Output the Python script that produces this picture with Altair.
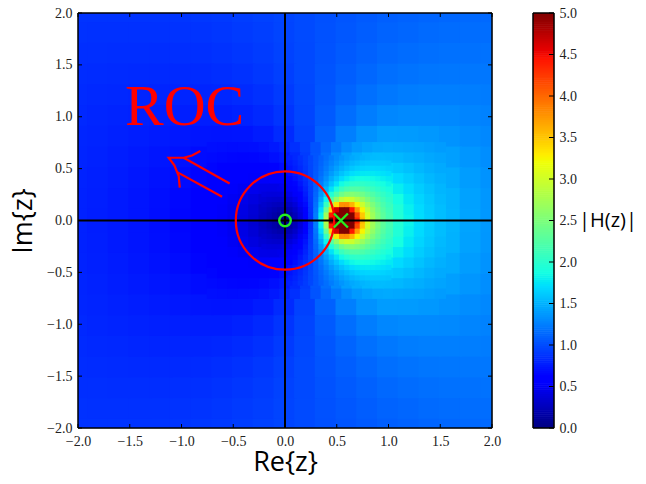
import altair as alt
import pandas as pd

# |H(z)|; rows run along Re{z}, upper half only (the picture is mirror-symmetric)
coarse_x = [round(-2 + 0.2 * i, 1) for i in range(21)]
coarse_y = [2.0, 1.8, 1.6, 1.4, 1.2, 1.0, 0.8, 0.6, 0.4, 0.2, 0.0]
N = None
coarse_rows = [
 [.875,.874,.874,.876,.88,.886,.894,.907,.923,.942,.966,.99,1.017,1.044,1.068,1.09,1.107,1.121,1.132,1.138,1.142],
 [.864,.862,.861,.862,.864,.869,.877,.89,.908,.93,.958,.988,1.021,1.054,1.083,1.109,1.128,1.143,1.153,1.158,1.161],
 [.853,.849,.847,.846,.846,.85,.857,.87,.889,.914,.948,.985,1.027,1.068,1.103,1.134,1.155,1.17,1.18,1.182,1.183],
 [.842,.836,.831,.828,.825,.827,.832,.844,.864,.893,.933,.981,1.035,1.088,1.132,1.168,1.19,1.205,1.211,1.21,1.207],
 [.83,.822,.815,.809,.803,.80,.801,.81,.83,.862,.912,.974,1.047,1.118,1.174,1.216,1.238,1.249,1.25,1.243,1.234],
 [.819,.809,.799,.789,.778,.77,.765,.769,.786,.819,.88,.964,1.066,1.166,1.238,1.286,1.302,1.304,1.296,1.28,1.264],
 [.809,.796,.783,.769,.753,.738,.724,.718,.725,.756,.83,.946,1.101,1.25,1.343,1.389,1.388,1.373,1.348,1.319,1.294],
 [.80,.785,.769,.75,.729,.706,.68,N,N,N,N,N,N,N,N,N,N,N,1.405,1.359,1.323],
 [.793,.776,.758,.735,.708,.677,.639,N,N,N,N,N,N,N,N,N,N,N,1.458,1.394,1.348],
 [.789,.771,.75,.725,.694,.657,.608,N,N,N,N,N,N,N,N,N,N,N,1.497,1.418,1.364],
 [.787,.769,.748,.722,.69,.649,.597,N,N,N,N,N,N,N,N,N,N,N,1.509,1.429,1.37],
]

middle_x = [round(-0.7 + 0.1 * i, 1) for i in range(23)]
middle_y = [0.7, 0.6, 0.5, 0.4, 0.3, 0.2, 0.1, 0.0]
middle_rows = [
 [.695,.689,.686,.688,.696,.715,.745,.792,.855,.935,1.03,1.13,1.226,1.31,1.38,1.42,1.45,1.46,1.45,1.44,1.43,1.41,1.39],
 [.669,.659,.65,.647,.65,.664,.693,.743,.817,.917,1.04,1.17,1.30,1.41,1.48,1.53,1.55,1.54,1.53,1.50,1.48,1.45,1.43],
 [.643,.627,.613,.601,.596,.603,.628,.679,.765,.89,1.05,1.23,1.41,1.55,1.64,1.67,1.67,1.64,1.61,1.57,1.53,1.49,1.46],
 [.619,.597,.575,.554,.537,.531,.546,.595,.693,.851,1.07,1.33,1.59,1.78,1.87,1.87,1.83,1.77,1.70,1.64,1.58,1.53,1.49],
 [.597,.569,.539,.507,.476,.451,.447,.485,.593,.794,1.10,1.51,1.92,2.19,2.24,2.15,2.02,1.90,1.79,1.71,1.63,1.57,1.52],
 [.58,.546,.508,.465,.417,.369,.333,.347,.462,.716,1.15,1.83,2.63,3.02,2.83,2.51,2.24,2.03,1.88,1.76,1.67,1.60,1.54],
 [.568,.531,.488,.436,.374,.30,.218,.182,.313,.63,1.21,2.38,4.65,5.0,3.73,2.89,2.42,2.13,1.94,1.80,1.70,1.62,1.56],
 [.565,.526,.481,.426,.357,.27,.156,0.0,.227,.588,1.25,2.86,5.0,5.0,4.38,3.08,2.5,2.17,1.96,1.82,1.71,1.63,1.56],
]

upper_x = [round(0.05 + 0.05 * i, 2) for i in range(20)]
upper_y = [0.6, 0.55, 0.5, 0.45, 0.4, 0.35]
upper_rows = [
 [.777,.817,.864,.917,.975,1.04,1.104,1.17,1.236,1.30,1.356,1.41,1.45,1.48,1.511,1.53,1.541,1.55,1.546,1.54],
 [.75,.793,.846,.905,.972,1.043,1.12,1.197,1.275,1.347,1.414,1.47,1.518,1.553,1.58,1.595,1.604,1.604,1.60,1.591],
 [.718,.765,.823,.89,.967,1.05,1.141,1.23,1.324,1.41,1.486,1.55,1.602,1.64,1.662,1.67,1.676,1.67,1.66,1.64],
 [.681,.732,.797,.873,.962,1.06,1.167,1.276,1.387,1.487,1.579,1.65,1.707,1.741,1.762,1.765,1.76,1.745,1.727,1.703],
 [.637,.693,.765,.851,.955,1.07,1.20,1.33,1.469,1.59,1.70,1.78,1.84,1.87,1.88,1.87,1.857,1.83,1.80,1.77],
 [.587,.647,.727,.825,.947,1.085,1.243,1.408,1.578,1.73,1.862,1.953,2.013,2.03,2.03,2.0,1.967,1.92,1.88,1.83],
]

fine_x = [round(-0.2 + 0.05 * i, 2) for i in range(25)]
fine_y = [0.3, 0.25, 0.2, 0.15, 0.1, 0.05, 0.0]
fine_rows = [
 [.451,.446,.447,.46,.485,.53,.593,.682,.794,.936,1.10,1.30,1.51,1.73,1.92,2.09,2.19,2.24,2.24,2.21,2.15,2.09,2.02,1.96,1.90],
 [.41,.397,.392,.398,.42,.464,.532,.63,.758,.924,1.125,1.37,1.64,1.94,2.20,2.41,2.52,2.55,2.50,2.42,2.32,2.23,2.13,2.05,1.97],
 [.369,.348,.333,.331,.347,.39,.462,.571,.716,.909,1.15,1.46,1.83,2.25,2.63,2.92,3.02,2.98,2.83,2.68,2.51,2.37,2.24,2.13,2.03],
 [.331,.30,.274,.26,.267,.309,.387,.508,.672,.893,1.18,1.57,2.07,2.72,3.34,3.79,3.80,3.59,3.25,2.97,2.71,2.51,2.34,2.20,2.09],
 [.30,.259,.218,.187,.182,.224,.313,.448,.63,.878,1.21,1.70,2.38,3.44,4.65,5.0,5.0,4.43,3.73,3.26,2.89,2.63,2.42,2.26,2.13],
 [.278,.229,.174,.119,.092,.144,.252,.402,.599,.867,1.24,1.80,2.69,4.42,5.0,5.0,5.0,5.0,4.16,3.49,3.02,2.71,2.48,2.30,2.16],
 [.27,.217,.156,.085,0.0,.102,.227,.385,.588,.862,1.25,1.84,2.86,5.0,5.0,5.0,5.0,5.0,4.38,3.57,3.08,2.74,2.5,2.32,2.17],
]

ticks = [-2.0, -1.5, -1.0, -0.5, 0.0, 0.5, 1.0, 1.5, 2.0]
bar_ticks = [0.0, 0.5, 1.0, 1.5, 2.0, 2.5, 3.0, 3.5, 4.0, 4.5, 5.0]
bar_levels = [round(0.025 * i, 3) for i in range(201)]

jet_stops = [0.0, 0.55, 0.625, 1.7, 1.75, 1.875, 3.2, 3.25, 3.3, 4.45, 4.55, 5.0]
jet_colors = ["#000080", "#0000ff", "#0000ff", "#00dbff", "#00e6f7", "#15ffe2",
              "#efff08", "#f7f600", "#ffec00", "#ff1300", "#e80000", "#800000"]

pole = (0.54, 0.0)
zero = (0.0, 0.0)
roc_radius_size = 9677

arrow_paths = {
    "shaft1": [(-.535, .357), (-.979, .605)],
    "shaft2": [(-.608, .229), (-1.042, .466)],
    "head": [(-.818, .669), (-.898, .627), (-.979, .605), (-1.124, .605),
             (-1.069, .531), (-1.027, .428), (-1.017, .316)],
}

def edge(v):
    return max(-2.0, min(2.0, v))

cells = []
for xs, ys, rows, step in [(coarse_x, coarse_y, coarse_rows, 0.2),
                           (middle_x, middle_y, middle_rows, 0.1),
                           (upper_x, upper_y, upper_rows, 0.05),
                           (fine_x, fine_y, fine_rows, 0.05)]:
    half = step * 0.56
    for yv, row in zip(ys, rows):
        for xv, v in zip(xs, row):
            if v is None:
                continue
            for sign in ([1, -1] if yv > 0 else [1]):
                cells.append(dict(x0=edge(xv - half), x1=edge(xv + half),
                                  y0=edge(sign * yv - half), y1=edge(sign * yv + half), v=v))
cells = pd.DataFrame(cells)

FONT_TICK = "Liberation Serif"
FONT_TITLE = "Open Sans"
dom = alt.Scale(domain=[-2, 2], nice=False, zero=False)
color = alt.Color("v:Q", legend=None,
                  scale=alt.Scale(domain=jet_stops, range=jet_colors, interpolate="rgb", clamp=True))

def axis(title, pad):
    return alt.Axis(title=title, values=ticks, format=".1f", grid=False, ticks=False, domain=False,
                    labelFont=FONT_TICK, labelFontSize=14, labelColor="#222222", labelPadding=6,
                    labelOverlap=False, labelFlush=False,
                    titleFont=FONT_TITLE, titleFontSize=27, titleFontWeight="normal",
                    titleColor="black", titlePadding=pad)

ax_x = axis("Re{z}", 1)
ax_y = axis("Im{z}", 9)

heat = alt.Chart(cells).mark_rect(stroke=None).encode(
    x=alt.X("x0:Q", scale=dom, axis=ax_x), x2="x1:Q",
    y=alt.Y("y0:Q", scale=dom, axis=ax_y), y2="y1:Q",
    color=color)

sx = alt.X("x:Q", scale=dom, axis=ax_x)
sy = alt.Y("y:Q", scale=dom, axis=ax_y)

t = pd.DataFrame({"t": ticks})
tick_x = alt.X("t:Q", scale=dom, axis=ax_x)
tick_y = alt.Y("t:Q", scale=dom, axis=ax_y)
tick_layers = [
    alt.Chart(t).mark_rule(color="black", strokeWidth=1).encode(x=tick_x, y=alt.value(415), y2=alt.value(411)),
    alt.Chart(t).mark_rule(color="black", strokeWidth=1).encode(x=tick_x, y=alt.value(0), y2=alt.value(4)),
    alt.Chart(t).mark_rule(color="black", strokeWidth=1).encode(y=tick_y, x=alt.value(0), x2=alt.value(4)),
    alt.Chart(t).mark_rule(color="black", strokeWidth=1).encode(y=tick_y, x=alt.value(414), x2=alt.value(410)),
]

cross = pd.DataFrame({"x": [-2, 0], "x2": [2, 0], "y": [0, -2], "y2": [0, 2]})
cross_mark = alt.Chart(cross).mark_rule(color="black", strokeWidth=2).encode(x=sx, x2="x2:Q", y=sy, y2="y2:Q")
frame = pd.DataFrame({"x": [-2, -2, -2, 2], "x2": [2, 2, -2, 2], "y": [-2, 2, -2, -2], "y2": [-2, 2, 2, 2]})
frame_mark = alt.Chart(frame).mark_rule(color="black", strokeWidth=1.5).encode(x=sx, x2="x2:Q", y=sy, y2="y2:Q")

roc_circle = alt.Chart(pd.DataFrame({"x": [zero[0]], "y": [zero[1]]})).mark_point(
    shape="circle", size=roc_radius_size, color="#ff0000", filled=False, strokeWidth=2.2, opacity=1).encode(x=sx, y=sy)
zero_mark = alt.Chart(pd.DataFrame({"x": [zero[0]], "y": [zero[1]]})).mark_point(
    shape="circle", size=133, color="#22ee22", filled=False, strokeWidth=2.4, opacity=1).encode(x=sx, y=sy)
pole_mark = alt.Chart(pd.DataFrame({"x": [pole[0]], "y": [pole[1]]})).mark_point(
    shape="M-1,-1L1,1M-1,1L1,-1", size=196, color="#22ee22", filled=False, strokeWidth=2.4, opacity=1).encode(x=sx, y=sy)

arrow = pd.DataFrame([dict(path=k, i=i, x=p[0], y=p[1]) for k, pts in arrow_paths.items() for i, p in enumerate(pts)])
arrow_mark = alt.Chart(arrow).mark_line(color="#ff0000", strokeWidth=2.2).encode(x=sx, y=sy, detail="path:N", order="i:Q")

roc_text = alt.Chart(pd.DataFrame({"x": [-0.97], "y": [0.925], "s": ["ROC"]})).mark_text(
    font="Liberation Serif", fontSize=58, color="#ff0000", align="center", baseline="alphabetic").encode(x=sx, y=sy, text="s:N")

main = alt.layer(heat, *tick_layers, cross_mark, frame_mark, roc_circle, zero_mark, pole_mark, arrow_mark, roc_text).properties(width=414, height=415)

bar = pd.DataFrame({"v": bar_levels})
bar["y0"] = (bar["v"] - 0.016).clip(lower=0.0)
bar["y1"] = (bar["v"] + 0.016).clip(upper=5.0)
bar_scale = alt.Scale(domain=[0, 5], nice=False, zero=False)
ax_bar = alt.Axis(
    title=None, orient="right", values=bar_ticks, format=".1f", grid=False, ticks=False, domain=False,
    labelFont=FONT_TICK, labelFontSize=14, labelColor="#222222", labelPadding=5, labelOverlap=False, labelFlush=False)
bar_rects = alt.Chart(bar).mark_rect(stroke=None).encode(
    x=alt.value(0), x2=alt.value(21),
    y=alt.Y("y0:Q", scale=bar_scale, axis=ax_bar),
    y2="y1:Q", color=color)
bt = pd.DataFrame({"t": bar_ticks})
bar_ticks_mark = alt.Chart(bt).mark_rule(color="black", strokeWidth=1).encode(
    y=alt.Y("t:Q", scale=bar_scale, axis=ax_bar), x=alt.value(21), x2=alt.value(16))
bar_edges = [
    alt.Chart(pd.DataFrame({"y": [0], "y2": [5]})).mark_rule(color="black", strokeWidth=1.5).encode(
        y=alt.Y("y:Q", scale=bar_scale, axis=ax_bar), y2="y2:Q", x=alt.value(px))
    for px in (0, 21)
] + [
    alt.Chart(pd.DataFrame({"y": [val]})).mark_rule(color="black", strokeWidth=1.5).encode(
        y=alt.Y("y:Q", scale=bar_scale, axis=ax_bar), x=alt.value(0), x2=alt.value(21))
    for val in (0, 5)
]
bar_title = alt.Chart(pd.DataFrame({"s": ["|H(z)|"]})).mark_text(
    font=FONT_TITLE, fontSize=20, color="black", align="left", baseline="middle").encode(
    x=alt.value(46), y=alt.value(208), text="s:N")
colorbar = alt.layer(bar_rects, bar_ticks_mark, *bar_edges, bar_title).properties(width=21, height=415)

chart = alt.hconcat(main, colorbar, spacing=29).resolve_scale(color="independent", x="independent", y="independent").properties(
    padding={"left": 1, "top": -3, "right": -2, "bottom": 0}
).configure_view(stroke=None).configure(background="white")

chart.save("out.html", embed_options={"renderer": "svg", "actions": False})
